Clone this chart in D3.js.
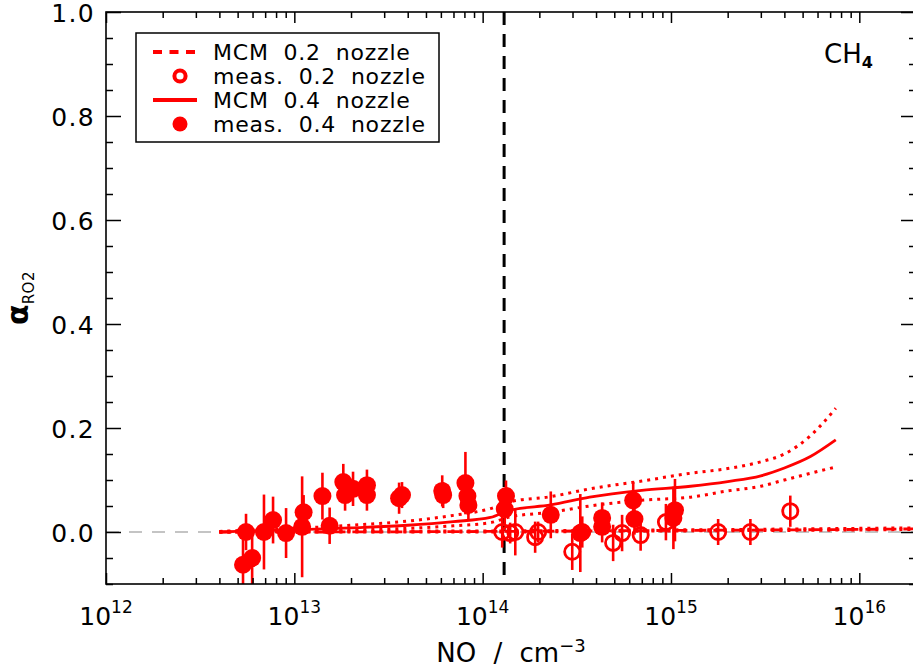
<!DOCTYPE html>
<html>
<head>
<meta charset="utf-8">
<script src="https://cdn.jsdelivr.net/npm/d3@7"></script>
<style>
  html, body { margin: 0; padding: 0; background: #fff; }
  svg { display: block; }
  text { font-family: "DejaVu Sans", sans-serif; fill: #000; }
</style>
</head>
<body>
<svg id="chart" width="913" height="668"></svg>
<script>
// ---- model curves (alpha_RO2 vs NO) ----
const modelNO = [4e12, 6e12, 1e13, 2e13, 4e13, 7e13, 1.1e14, 1.4e14, 2.3e14, 3.7e14, 7e14, 1.27e15, 2e15, 3e15, 4e15, 5.5e15, 7.5e15];
const mcm04 = [0.000, 0.002, 0.004, 0.008, 0.013, 0.020, 0.028, 0.042, 0.052, 0.067, 0.080, 0.088, 0.097, 0.108, 0.123, 0.145, 0.177];
const mcm04Upper = [0.001, 0.004, 0.007, 0.013, 0.021, 0.032, 0.045, 0.058, 0.068, 0.083, 0.098, 0.113, 0.122, 0.135, 0.150, 0.185, 0.238];
const mcm04Lower = [0.000, 0.001, 0.002, 0.004, 0.007, 0.012, 0.018, 0.029, 0.038, 0.050, 0.061, 0.067, 0.079, 0.088, 0.100, 0.113, 0.125];

const model02NO = [4e12, 1e13, 1e14, 1e15, 1e16, 2e16];
const mcm02 = [0.000, 0.000, 0.001, 0.003, 0.005, 0.006];
const mcm02Upper = [0.000, 0.001, 0.002, 0.004, 0.007, 0.008];
const mcm02Lower = [0.000, 0.000, 0.000, 0.002, 0.004, 0.005];

// ---- measurements, 0.4 nozzle (filled) ----
const meas04NO = [5.34e12, 5.97e12, 5.54e12, 6.9e12, 7.71e12, 9.04e12, 1.10e13, 1.12e13, 1.41e13, 1.54e13,
                  1.82e13, 1.86e13, 2.05e13, 2.43e13, 2.43e13, 3.6e13, 3.73e13, 6.1e13, 6.17e13, 8.1e13,
                  8.3e13, 8.4e13, 1.33e14, 1.31e14, 2.3e14, 3.3e14, 4.31e14, 4.31e14, 6.3e14, 6.4e14,
                  1.05e15, 1.03e15];
const meas04Alpha = [-0.063, -0.050, 0.000, 0.000, 0.023, -0.002, 0.010, 0.038, 0.069, 0.012,
                     0.096, 0.071, 0.083, 0.090, 0.071, 0.065, 0.071, 0.079, 0.071, 0.094,
                     0.069, 0.052, 0.069, 0.044, 0.033, -0.002, 0.027, 0.010, 0.061, 0.025,
                     0.042, 0.027];
const meas04Err = [0.050, 0.050, 0.035, 0.072, 0.045, 0.048, 0.097, 0.033, 0.045, 0.035,
                   0.035, 0.030, 0.033, 0.030, 0.030, 0.030, 0.025, 0.030, 0.025, 0.060,
                   0.030, 0.030, 0.030, 0.030, 0.045, 0.075, 0.030, 0.030, 0.035, 0.030,
                   0.060, 0.060];

// ---- measurements, 0.2 nozzle (open) ----
const meas02NO = [1.27e14, 1.40e14, 1.49e14, 1.90e14, 1.97e14, 2.99e14, 3.38e14, 4.93e14, 5.5e14, 6.9e14,
                  9.4e14, 1.78e15, 2.64e15, 4.3e15];
const meas02Alpha = [0.000, -0.002, 0.000, -0.010, 0.000, -0.038, 0.000, -0.021, -0.002, -0.006,
                     0.019, 0.000, 0.000, 0.040];
const meas02Err = [0.030, 0.020, 0.045, 0.030, 0.020, 0.035, 0.030, 0.035, 0.035, 0.030,
                   0.035, 0.025, 0.025, 0.030];

// ---- axes ----
const xMajor = [1e12, 1e13, 1e14, 1e15, 1e16];
const xExponents = ["12", "13", "14", "15", "16"];
const yMajor = [0.0, 0.2, 0.4, 0.6, 0.8, 1.0];
const yMinor = [-0.1, -0.05, 0.05, 0.1, 0.15, 0.25, 0.3, 0.35, 0.45, 0.5, 0.55, 0.65, 0.7, 0.75, 0.85, 0.9, 0.95];
const noLimit = 1.3e14;   // vertical reference line
const legendLabels = ["MCM 0.2 nozzle", "meas. 0.2 nozzle", "MCM 0.4 nozzle", "meas. 0.4 nozzle"];

const RED = "#ff0000";
const svg = d3.select("#chart");
const L = 106, R = 916, T = 12, B = 584;

const x = d3.scaleLog().domain([1e12, 2e16]).range([L, R]);
const y = d3.scaleLinear().domain([-0.1, 1.0]).range([B, T]);

const xMinor = [];
for (let e = 12; e <= 16; e++) for (let k = 2; k <= 9; k++) {
  const v = k * Math.pow(10, e);
  if (v <= 2e16) xMinor.push(v);
}

svg.append("defs").append("clipPath").attr("id", "plotArea")
  .append("rect").attr("x", L).attr("y", T).attr("width", R - L).attr("height", B - T);

const plot = svg.append("g").attr("clip-path", "url(#plotArea)");

// zero reference
plot.append("line")
  .attr("x1", L).attr("x2", R).attr("y1", y(0)).attr("y2", y(0))
  .attr("stroke", "#8a8a8a").attr("stroke-width", 1.2).attr("stroke-dasharray", "13,10");

// vertical NO marker
plot.append("line")
  .attr("x1", x(noLimit)).attr("x2", x(noLimit)).attr("y1", T).attr("y2", B)
  .attr("stroke", "#000").attr("stroke-width", 3).attr("stroke-dasharray", "13,9");

const line = d3.line().x(d => x(d[0])).y(d => y(d[1])).curve(d3.curveMonotoneX);
const zip = (a, b) => a.map((v, i) => [v, b[i]]);

function drawCurve(xsArr, ysArr, width, dash) {
  plot.append("path")
    .datum(zip(xsArr, ysArr))
    .attr("d", line)
    .attr("fill", "none")
    .attr("stroke", RED)
    .attr("stroke-width", width)
    .attr("stroke-dasharray", dash);
}

drawCurve(model02NO, mcm02Upper, 3, "3,5");
drawCurve(model02NO, mcm02Lower, 3, "3,5");
drawCurve(model02NO, mcm02, 2.8, "12,7");
drawCurve(modelNO, mcm04Upper, 3, "3,5");
drawCurve(modelNO, mcm04Lower, 3, "3,5");
drawCurve(modelNO, mcm04, 2.8, null);

// error bars
function drawErrors(xsArr, ysArr, errs) {
  plot.append("g").selectAll("line")
    .data(xsArr.map((v, i) => ({ x: v, y: ysArr[i], e: errs[i] })))
    .join("line")
    .attr("x1", d => x(d.x)).attr("x2", d => x(d.x))
    .attr("y1", d => y(d.y - d.e)).attr("y2", d => y(d.y + d.e))
    .attr("stroke", RED).attr("stroke-width", 2.6);
}
drawErrors(meas02NO, meas02Alpha, meas02Err);
drawErrors(meas04NO, meas04Alpha, meas04Err);

// open markers (0.2 nozzle)
plot.append("g").selectAll("circle")
  .data(zip(meas02NO, meas02Alpha))
  .join("circle")
  .attr("cx", d => x(d[0])).attr("cy", d => y(d[1])).attr("r", 7.6)
  .attr("fill", "none").attr("stroke", RED).attr("stroke-width", 2.8);

// filled markers (0.4 nozzle)
plot.append("g").selectAll("circle")
  .data(zip(meas04NO, meas04Alpha))
  .join("circle")
  .attr("cx", d => x(d[0])).attr("cy", d => y(d[1])).attr("r", 9)
  .attr("fill", RED);

// ---- frame and ticks ----
function tickAxis(axisFn, scale, values, size, transform) {
  const g = svg.append("g").attr("transform", transform)
    .call(axisFn(scale).tickValues(values).tickSize(-size).tickSizeOuter(0).tickFormat(""));
  g.select(".domain").remove();
  g.selectAll(".tick line").attr("stroke", "#000").attr("stroke-width", 1.5);
}
tickAxis(d3.axisBottom, x, xMajor, 11, `translate(0,${B})`);
tickAxis(d3.axisBottom, x, xMinor, 6, `translate(0,${B})`);
tickAxis(d3.axisTop, x, xMajor, 11, `translate(0,${T})`);
tickAxis(d3.axisTop, x, xMinor, 6, `translate(0,${T})`);
tickAxis(d3.axisLeft, y, yMajor, 15, `translate(${L},0)`);
tickAxis(d3.axisLeft, y, yMinor, 7, `translate(${L},0)`);
tickAxis(d3.axisRight, y, yMajor, 15, `translate(${R},0)`);
tickAxis(d3.axisRight, y, yMinor, 7, `translate(${R},0)`);

svg.append("rect")
  .attr("x", L).attr("y", T).attr("width", R - L).attr("height", B - T)
  .attr("fill", "none").attr("stroke", "#000").attr("stroke-width", 1.6);

// x tick labels: 10^n
const xl = svg.append("g").selectAll("text")
  .data(xMajor.map((v, i) => ({ v, e: xExponents[i] })))
  .join("text")
  .attr("x", d => x(d.v)).attr("y", 625)
  .attr("text-anchor", "middle")
  .style("font-size", "25px");
xl.append("tspan").text("10");
xl.append("tspan").attr("dy", -12).style("font-size", "17px").text(d => d.e);

// y tick labels
svg.append("g").selectAll("text")
  .data(yMajor)
  .join("text")
  .attr("x", 95).attr("y", d => y(d) + 10)
  .attr("text-anchor", "end")
  .style("font-size", "25px").style("letter-spacing", "1.3px")
  .text(d3.format(".1f"));

// axis titles
const xt = svg.append("text")
  .attr("x", (L + R) / 2).attr("y", 662)
  .attr("text-anchor", "middle")
  .style("font-size", "26px").style("word-spacing", "9px");
xt.append("tspan").text("NO / cm");
xt.append("tspan").attr("dy", -10).style("font-size", "18px").text("\u22123");

const yt = svg.append("text")
  .attr("transform", `translate(28,${(T + B) / 2}) rotate(-90)`)
  .attr("text-anchor", "middle");
yt.append("tspan").style("font-size", "30px").style("font-weight", "bold").text("\u03b1");
yt.append("tspan").attr("dy", 6).style("font-size", "15px").style("letter-spacing", "0.5px").text("RO2");

// species tag
const sp = svg.append("text").attr("x", 824).attr("y", 63).style("font-size", "26px");
sp.append("tspan").text("CH");
sp.append("tspan").attr("dy", 5).style("font-size", "16px").style("font-weight", "bold").text("4");

// ---- legend ----
const lg = svg.append("g");
lg.append("rect").attr("x", 136).attr("y", 33).attr("width", 303).attr("height", 109)
  .attr("fill", "#fff").attr("stroke", "#000").attr("stroke-width", 1.5);
const rowY = [52, 76, 100, 124];
lg.append("line").attr("x1", 153).attr("x2", 197).attr("y1", rowY[0]).attr("y2", rowY[0])
  .attr("stroke", RED).attr("stroke-width", 4).attr("stroke-dasharray", "9,7.5");
lg.append("circle").attr("cx", 180).attr("cy", rowY[1]).attr("r", 5.6)
  .attr("fill", "none").attr("stroke", RED).attr("stroke-width", 4);
lg.append("line").attr("x1", 153).attr("x2", 197).attr("y1", rowY[2]).attr("y2", rowY[2])
  .attr("stroke", RED).attr("stroke-width", 4);
lg.append("circle").attr("cx", 180).attr("cy", rowY[3]).attr("r", 7.5).attr("fill", RED);
lg.selectAll("text.lab")
  .data(legendLabels)
  .join("text")
  .attr("class", "lab")
  .attr("x", 213).attr("y", (d, i) => rowY[i] + 7.5)
  .style("font-size", "22px").style("word-spacing", "7px").style("letter-spacing", "0.8px")
  .text(d => d);
</script>
</body>
</html>
